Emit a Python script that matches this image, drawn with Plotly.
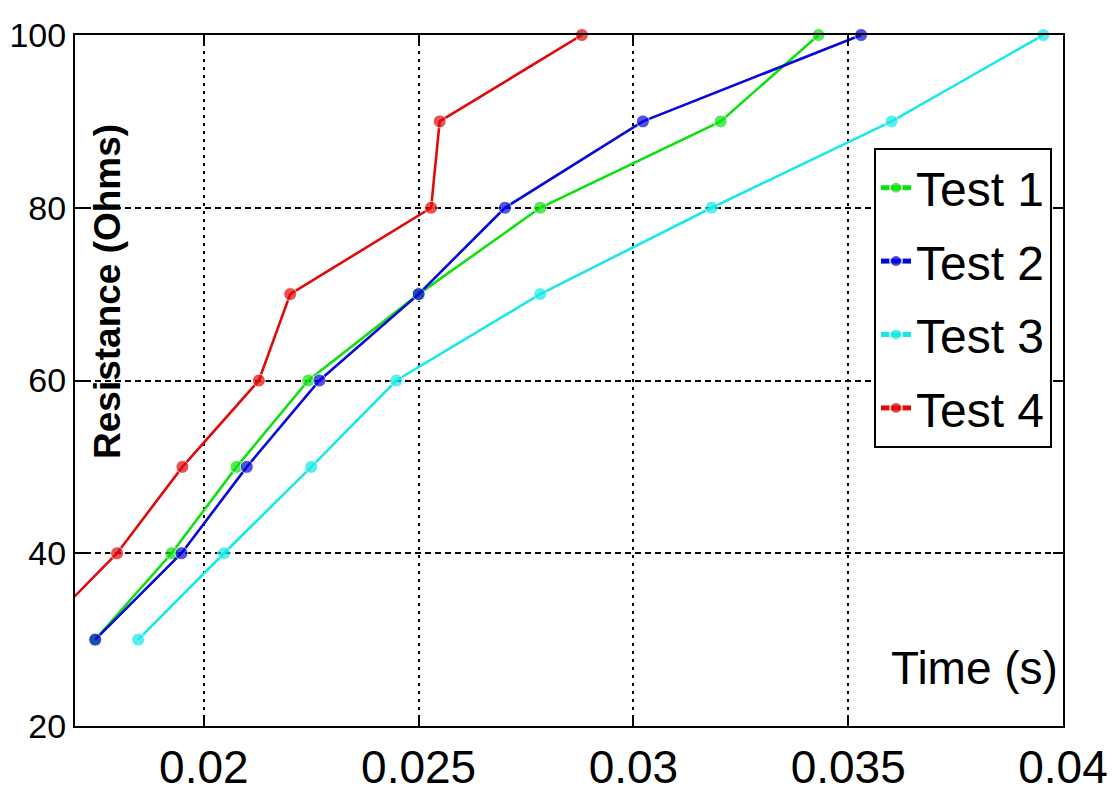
import plotly.graph_objects as go

# ---- data ----
resistance = [30, 40, 50, 60, 70, 80, 90, 100]
test1_time = [0.01747, 0.01925, 0.02076, 0.02243, 0.02500, 0.02783, 0.03203, 0.03431]
test2_time = [0.01747, 0.01948, 0.02100, 0.02269, 0.02500, 0.02701, 0.03022, 0.03530]
test3_time = [0.01847, 0.02047, 0.02250, 0.02448, 0.02783, 0.03182, 0.03601, 0.03954]
test4_time = [0.01600, 0.01798, 0.01950, 0.02128, 0.02201, 0.02529, 0.02549, 0.02880]

series_names = ["Test 1", "Test 2", "Test 3", "Test 4"]
series_colors = ["#10e010", "#0808dc", "#18e8e8", "#e00a0a"]

x_tickvals = [0.02, 0.025, 0.03, 0.035, 0.04]
x_ticktext = ["0.02", "0.025", "0.03", "0.035", "0.04"]
y_tickvals = [20, 40, 60, 80, 100]

X_MIN, X_MAX = 0.017, 0.04
Y_MIN, Y_MAX = 20, 100

FONT = "Liberation Sans, Arial, sans-serif"
FS = 46

# page is drawn with an 8px body margin; plot area target (page px): 75..1063 x, 35..726 y
OFF = 8
W, H = 1116 - OFF, 792 - OFF
L, R, T, B = 75 - OFF, 1063 - OFF, 35 - OFF, 726 - OFF
PW, PH = R - L, B - T


def px(xp):
    return (xp - OFF - L) / PW


def py(yp):
    return (B - (yp - OFF)) / PH


fig = go.Figure()
for i, (name, xs, col) in enumerate(zip(series_names, [test1_time, test2_time, test3_time, test4_time], series_colors)):
    sizes = [0 if x < X_MIN else 13 for x in xs]
    fig.add_trace(go.Scatter(
        x=xs, y=resistance, name=name, mode="lines+markers",
        legendgroup=f"g{i}",
        line=dict(color=col, width=2.6),
        marker=dict(color=col, size=sizes, symbol="circle"),
        cliponaxis=False,
    ))

fig.update_layout(
    width=W, height=H,
    margin=dict(l=L, r=W - R, t=T, b=H - B, autoexpand=False),
    plot_bgcolor="white", paper_bgcolor="white",
    font=dict(family=FONT, size=FS, color="black"),
    showlegend=True,
    legend=dict(
        x=px(874), y=py(148), xanchor="left", yanchor="top",
        bgcolor="white", bordercolor="black", borderwidth=2,
        font=dict(family=FONT, size=48, color="black"),
        itemsizing="constant", tracegroupgap=8,
    ),
    xaxis=dict(
        range=[X_MIN, X_MAX], tickvals=x_tickvals, ticktext=x_ticktext,
        showgrid=True, gridcolor="black", gridwidth=2, griddash="3px,5px",
        showline=True, linecolor="black", linewidth=2, mirror="ticks",
        ticks="inside", ticklen=10, tickwidth=2, tickcolor="black",
        zeroline=False, automargin=False,
        tickfont=dict(family=FONT, size=FS, color="black"),
    ),
    yaxis=dict(
        range=[Y_MIN, Y_MAX], tickvals=y_tickvals,
        showgrid=True, gridcolor="black", gridwidth=2, griddash="6px,4px",
        showline=True, linecolor="black", linewidth=2, mirror="ticks",
        ticks="inside", ticklen=10, tickwidth=2, tickcolor="black",
        zeroline=False, automargin=False,
        tickfont=dict(family=FONT, size=34, color="black"),
    ),
    annotations=[
        dict(text="Resistance (Ohms)", textangle=-90, xref="paper", yref="paper",
             x=px(107), y=py(292), xanchor="center", yanchor="middle", showarrow=False,
             font=dict(family=FONT, size=37, color="black", weight="bold")),
        dict(text="Time (s)", xref="paper", yref="paper",
             x=px(974), y=py(668), xanchor="center", yanchor="middle", showarrow=False,
             font=dict(family=FONT, size=FS, color="black")),
    ],
)

fig.write_html("out.html")
